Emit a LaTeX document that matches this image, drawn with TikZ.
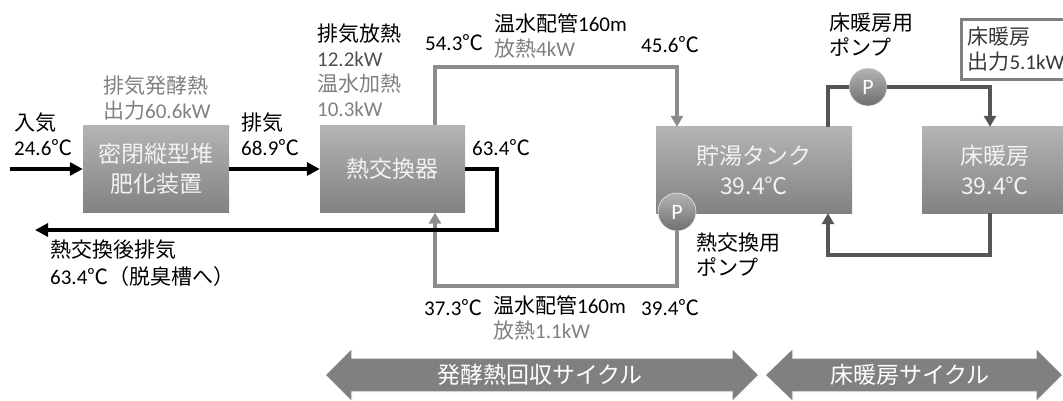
\documentclass[tikz,border=0pt]{standalone}
\usepackage{fontspec}
\setmainfont{Carlito}
\newfontfamily\jp{Noto Sans CJK JP}
\usetikzlibrary{arrows.meta}
\newcommand\J[1]{{\jp #1}}
\newcommand\dc{{\jp ℃}}
\definecolor{pipegray}{RGB}{140,140,140}
\definecolor{pipedark}{RGB}{85,85,85}
\definecolor{txtgray}{RGB}{128,128,128}
\definecolor{txtdark}{RGB}{80,80,80}
\definecolor{boxtop}{RGB}{180,180,180}
\definecolor{boxbot}{RGB}{130,130,130}
\definecolor{bigarrow}{RGB}{128,128,128}
\definecolor{boxtext}{RGB}{242,242,242}
\begin{document}
\begin{tikzpicture}[x=1pt,y=-1pt,
  box/.style={rectangle, top color=boxtop, bottom color=boxbot, draw=none,
    minimum width=146pt, minimum height=87pt, text=boxtext, align=center,
    font=\fontsize{23}{30}\selectfont\jp, inner sep=0pt},
  lab/.style={anchor=west, align=left, inner sep=0pt, font=\fontsize{21}{25}\selectfont},
  bpipe/.style={line width=4pt, black},
  gpipe/.style={line width=4pt, pipegray},
  dpipe/.style={line width=4pt, pipedark},
  tipb/.style={-{Triangle[length=13pt,width=13pt]}},
  tipg/.style={-{Triangle[length=11pt,width=12pt]}},
  pump/.style={circle, minimum size=38pt, inner sep=0pt, top color=boxtop, bottom color=boxbot!85!black,
    draw=white!85!gray, line width=0.6pt, text=white, font=\fontsize{22}{22}\selectfont},
  bigarr/.style={fill=bigarrow, draw=white, line width=1.2pt},
  bigtext/.style={text=white, inner sep=0pt, font=\fontsize{23}{23}\selectfont\jp}
]
\useasboundingbox (0,0) rectangle (1063,401);

% boxes
\node[box] (b1) at (156,169) {密閉縦型堆\\肥化装置};
\node[box, minimum width=145pt] (b2) at (392.5,169) {熱交換器};
\node[box, minimum width=196pt, minimum height=86pt] (tank) at (754,170) {貯湯タンク\\39.4℃};
\node[box, minimum height=86pt] (floor) at (995,170) {床暖房\\39.4℃};

% pumps
\node[pump] (p1) at (677,212) {P};
\node[pump] (p2) at (868,87) {P};

% connector coordinates
\coordinate (inair0) at (10,169);
\coordinate (exhend) at (35,230);

% gray hot-water loop
\draw[gpipe, tipg] ([xshift=42.5pt]b2.north) -- ++(0,-58) -| ([xshift=-77pt]tank.north);
\draw[gpipe, tipg] (p1.south) -- ++(0,55) -| ([xshift=42.5pt]b2.south);

% floor heating loop
\draw[dpipe] ([xshift=74pt]tank.north) |- (p2.west);
\draw[dpipe, tipg] (p2.east) -| ([xshift=-5pt]floor.north);
\draw[dpipe, tipg] ([xshift=-5pt]floor.south) -- ++(0,42) -| ([xshift=74pt]tank.south);

% air / exhaust
\draw[bpipe, tipb] (inair0) -- (b1.west);
\draw[bpipe, tipb] (b1.east) -- (b2.west);
\draw[bpipe, tipb] (b2.east) -- ++(32,0) |- (exhend);

% labels
\node[lab] (linair) at (14,134.5) {\J{入気}\\24.6\dc};
\node[lab, text=txtgray] (lferm) at (103,98.5) {\J{排気発酵熱}\\\J{出力}60.6kW};
\node[lab] (lexh) at (241,134.5) {\J{排気}\\68.9\dc};
\node[lab] (lhx) at (317,70.5) {\J{排気放熱}\\{\color{txtdark}12.2kW}\\{\color{txtgray}\J{温水加熱}}\\{\color{txtgray}10.3kW}};
\node[lab] (t543) at (425,43) {54.3\dc};
\node[lab] (lpipe1) at (494,35.5) {\J{温水配管}160m\\{\color{txtgray}\J{放熱}4kW}};
\node[lab] (t456) at (641,45) {45.6\dc};
\node[lab] (t634) at (472,148) {63.4\dc};
\node[lab] (lexh2) at (50,263.5) {\J{熱交換後排気}\\[2pt]63.4\J{℃（脱臭槽へ）}};
\node[lab] (t373) at (424,308) {37.3\dc};
\node[lab] (lpipe2) at (493,317.5) {\J{温水配管}160m\\{\color{txtgray}\J{放熱}1.1kW}};
\node[lab] (t394) at (641,308) {39.4\dc};
\node[lab, fill=white, inner sep=6pt] (lpump1) at (690,254.5) {\J{熱交換用}\\\J{ポンプ}};
\node[lab] (lpump2) at (829,34.5) {\J{床暖房用}\\\J{ポンプ}};
\node[lab, anchor=north west, draw=txtgray, line width=3pt, fill=white, inner xsep=6pt, inner ysep=4pt,
  text width=110pt, minimum height=60pt, text=txtdark!70!black] (lfloor) at (960,18) {\J{床暖房}\\\J{出力}5.1kW};

% cycle arrows
\path[bigarr] (325,375) -- (352,348) -- (352,358) -- (732,358) -- (732,348) -- (759,375)
  -- (732,402) -- (732,392) -- (352,392) -- (352,402) -- cycle;
\path[bigarr] (765,375) -- (793,348) -- (793,358) -- (1036,358) -- (1036,348) -- (1063,375)
  -- (1036,402) -- (1036,392) -- (793,392) -- (793,402) -- cycle;
\node[bigtext] (cyc1) at (540,375) {発酵熱回収サイクル};
\node[bigtext] (cyc2) at (910,375) {床暖房サイクル};
\end{tikzpicture}
\end{document}
